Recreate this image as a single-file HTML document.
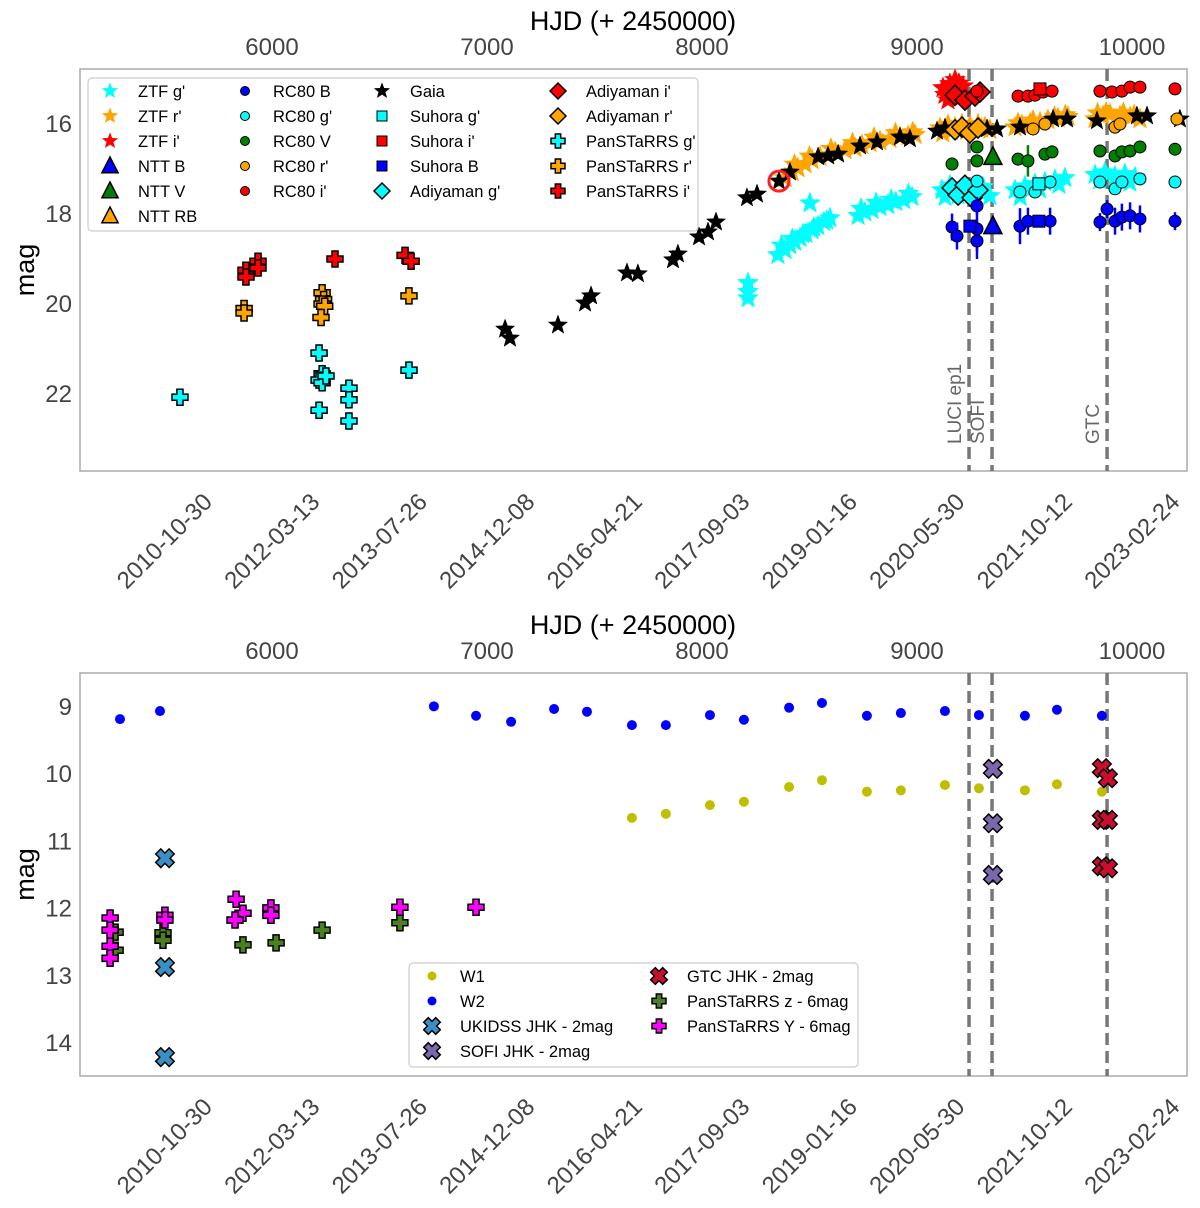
<!DOCTYPE html>
<html><head><meta charset="utf-8"><style>
html,body{margin:0;padding:0;background:#fff}
svg{display:block;font-family:"Liberation Sans","DejaVu Sans",sans-serif}
</style></head><body>
<svg id="c" width="1200" height="1208" viewBox="0 0 1200 1208" xmlns="http://www.w3.org/2000/svg"></svg>
<script>
// ---------- data (HJD-2450000, mag) ----------
const hjdTicks=[6000,7000,8000,9000,10000];
const dateTickHjd=[5500,6000,6500,7000,7500,8000,8500,9000,9500,10000];
const dateTickLabels=["2010-10-30","2012-03-13","2013-07-26","2014-12-08","2016-04-21","2017-09-03","2019-01-16","2020-05-30","2021-10-12","2023-02-24"];
const topMagTicks=[16,18,20,22];
const botMagTicks=[9,10,11,12,13,14];
const epochHjd=[9242,9349,9884];
const epochLabels=["LUCI ep1","SOFI","GTC"];

const psG_t=[5572,6219,6233,6219,6233,6251,6219,6358,6358,6358,6637];
const psG_m=[22.07,21.09,21.55,21.69,21.75,21.6,22.36,21.87,22.13,22.6,21.47];
const psR_t=[5870,5870,6233,6240,6233,6245,6228,6637];
const psR_m=[20.1,20.2,19.75,19.9,20.0,20.05,20.3,19.82];
const psI_t=[5879,5879,5935,5935,6293,6619,6647];
const psI_m=[19.25,19.4,19.05,19.2,19.0,18.92,19.05];

const gaia_t=[7084,7107,7330,7456,7484,7651,7702,7865,7888,7986,8028,8065,8209,8256,8358,8409,8540,8586,8633,8735,8814,8921,8967,9093,9130,9200,9326,9372,9479,9633,9698,9837,10023,10070,10223];
const gaia_m=[20.56,20.76,20.47,19.98,19.82,19.31,19.33,19.02,18.89,18.51,18.4,18.18,17.64,17.56,17.27,17.07,16.73,16.71,16.67,16.49,16.4,16.29,16.33,16.16,16.09,16.13,16.11,16.11,16.07,15.89,15.89,15.93,15.82,15.82,15.89];

const ztfR_t=[8386,8419,8446,8479,8512,8549,8586,8619,8665,8712,8744,8781,8828,8874,8921,8958,8991,9107,9144,9177,9209,9246,9284,9316,9339,9456,9488,9526,9572,9609,9656,9702,9828,9865,9898,9944,9991,10037,8430,8500,8600,8700,8800,8900,8980,9120,9160,9230,9300,9470,9540,9640,9690,9840,9880,9960,10010];
const ztfR_m=[17.2,17.07,16.98,16.89,16.8,16.73,16.69,16.62,16.58,16.53,16.47,16.42,16.38,16.33,16.29,16.27,16.24,16.09,16.02,16.07,16.0,16.04,16.0,16.07,16.13,16.07,16.02,15.98,15.96,15.91,15.87,15.84,15.89,15.82,15.78,15.82,15.84,15.89,16.9,16.72,16.55,16.42,16.3,16.2,16.18,16.2,16.15,16.15,16.1,15.98,15.92,15.84,15.8,15.76,15.74,15.75,15.8];
const ztfG_t=[8214,8214,8214,8502,8353,8386,8409,8432,8456,8484,8512,8539,8567,8595,8726,8758,8791,8828,8865,8902,8939,8977,9116,9153,9191,9228,9270,9307,9339,9456,9502,9549,9595,9642,9688,9828,9874,9921,9967,10014,8370,8420,8470,8520,8580,8740,8810,8880,8960,9130,9210,9290,9480,9570,9660,9850,9940,9990];
const ztfG_m=[19.53,19.73,19.87,17.76,18.91,18.8,18.69,18.62,18.53,18.44,18.36,18.27,18.18,18.09,18.04,17.96,17.91,17.84,17.8,17.73,17.69,17.62,17.47,17.36,17.58,17.42,17.53,17.4,17.6,17.47,17.38,17.33,17.29,17.24,17.2,17.13,17.07,17.16,17.11,17.18,18.7,18.55,18.45,18.3,18.15,17.88,17.75,17.68,17.55,17.62,17.55,17.5,17.62,17.45,17.35,17.25,17.25,17.3];
const ztfI_t=[9121,9153,9186,9214,9144,9200,9177,9130,9165,9195];
const ztfI_m=[15.2,15.11,15.29,15.16,15.47,15.42,15.02,15.35,15.3,15.1];

const adiI_t=[9177,9223,9270,9293]; const adiI_m=[15.36,15.47,15.38,15.29];
const adiR_t=[9177,9209,9246,9284]; const adiR_m=[16.13,16.07,16.2,16.09];
const adiG_t=[9163,9191,9223,9256,9284]; const adiG_m=[17.42,17.58,17.36,17.64,17.47];

const rcI_t=[9279,9470,9516,9549,9586,9628,9851,9907,9953,9991,10037,10200];
const rcI_m=[15.27,15.38,15.38,15.36,15.29,15.27,15.27,15.29,15.27,15.18,15.18,15.22];
const rcR_t=[9540,9595,9921,9944,10209]; const rcR_m=[16.11,16.0,16.07,16.0,15.89];
const rcV_t=[9163,9279,9279,9470,9516,9595,9628,9851,9921,9953,9991,10037,10200];
const rcV_m=[16.89,16.51,16.82,16.78,16.82,16.67,16.62,16.6,16.71,16.62,16.6,16.51,16.56];
const rcV_e=[0.05,0.1,0.1,0.05,0.35,0.05,0.05,0.05,0.08,0.05,0.05,0.05,0.05];
const rcG_t=[9279,9479,9549,9619,9851,9921,9953,10037,10200];
const rcG_m=[17.27,17.51,17.51,17.29,17.29,17.44,17.29,17.22,17.29];
const rcB_t=[9163,9186,9279,9279,9279,9479,9516,9619,9851,9884,9921,9953,9991,10037,10200];
const rcB_m=[18.29,18.49,17.82,18.33,18.6,18.27,18.16,18.16,18.18,17.89,18.16,18.07,18.04,18.11,18.16];
const rcB_e=[0.3,0.3,0.2,0.5,0.4,0.4,0.3,0.3,0.2,0.2,0.3,0.3,0.3,0.3,0.2];
const suI_t=[9572]; const suI_m=[15.22];
const suG_t=[9567]; const suG_m=[17.33];
const suB_t=[9567,9246]; const suB_m=[18.16,18.27];
const nttB_t=[9353]; const nttB_m=[18.27];
const nttV_t=[9353]; const nttV_m=[16.73];
const circled_t=[8358]; const circled_m=[17.27];

const w2_t=[5293,5479,6753,6949,7112,7312,7465,7674,7832,8037,8195,8405,8558,8767,8925,9130,9288,9502,9651,9860];
const w2_m=[9.18,9.06,8.99,9.13,9.22,9.03,9.07,9.27,9.27,9.12,9.19,9.01,8.94,9.13,9.09,9.06,9.12,9.13,9.04,9.13];
const w1_t=[7674,7832,8037,8195,8405,8558,8767,8925,9130,9288,9502,9651,9860];
const w1_m=[10.65,10.59,10.46,10.41,10.19,10.09,10.26,10.24,10.16,10.21,10.24,10.15,10.26];
const sofi_t=[9353,9353,9353]; const sofi_m=[9.92,10.73,11.5];
const gtc_t=[9860,9888,9860,9888,9860,9888]; const gtc_m=[9.91,10.06,10.68,10.68,11.37,11.4];
const psY_t=[5247,5247,5247,5247,5502,5502,5833,5865,5828,5995,5995,6595,6949];
const psY_m=[12.14,12.32,12.56,12.74,12.1,12.17,11.86,12.07,12.17,11.99,12.1,11.98,11.98];
const psZ_t=[5270,5270,5493,5493,5865,6019,6233,6595];
const psZ_m=[12.35,12.62,12.36,12.47,12.54,12.51,12.32,12.21];
const uk_t=[5502,5502,5502]; const uk_m=[11.25,12.87,14.21];

// ---------- scales ----------
const X=t=>272+(t-6000)*0.215;
const YT=m=>124+(m-16)*45;
const YB=m=>707+(m-9)*67.2;
const svg=document.getElementById('c');
const NS='http://www.w3.org/2000/svg';
function el(tag,attrs,parent){const e=document.createElementNS(NS,tag);for(const k in attrs)e.setAttribute(k,attrs[k]);(parent||svg).appendChild(e);return e;}
function starPath(cx,cy,r){let d='';for(let i=0;i<10;i++){const a=-Math.PI/2+i*Math.PI/5;const rr=i%2?r*0.42:r;d+=(i?'L':'M')+(cx+rr*Math.cos(a)).toFixed(1)+' '+(cy+rr*Math.sin(a)).toFixed(1);}return d+'Z';}
function plusPts(cx,cy,s,rot){const a=s/2,b=s*0.19;const p=[[-b,-a],[b,-a],[b,-b],[a,-b],[a,b],[b,b],[b,a],[-b,a],[-b,b],[-a,b],[-a,-b],[-b,-b]];const c=Math.cos(rot),sn=Math.sin(rot);return p.map(q=>(cx+q[0]*c-q[1]*sn).toFixed(1)+','+(cy+q[0]*sn+q[1]*c).toFixed(1)).join(' ');}
function marker(g,type,cx,cy,fill,sz){
  let e;
  if(type==='star'){e=el('path',{d:starPath(cx,cy,sz),fill:fill,stroke:fill,'stroke-width':0.5},g);}
  else if(type==='circle'){e=el('circle',{cx:cx,cy:cy,r:sz,fill:fill,stroke:'#000','stroke-width':1},g);}
  else if(type==='dot'){e=el('circle',{cx:cx,cy:cy,r:sz,fill:fill},g);}
  else if(type==='square'){e=el('rect',{x:cx-sz,y:cy-sz,width:2*sz,height:2*sz,fill:fill,stroke:'#000','stroke-width':1},g);}
  else if(type==='diamond'){e=el('polygon',{points:`${cx},${cy-sz} ${cx+sz},${cy} ${cx},${cy+sz} ${cx-sz},${cy}`,fill:fill,stroke:'#000','stroke-width':1.5},g);}
  else if(type==='tri'){e=el('polygon',{points:`${cx},${cy-sz} ${cx+sz*0.9},${cy+sz*0.75} ${cx-sz*0.9},${cy+sz*0.75}`,fill:fill,stroke:'#000','stroke-width':1.5},g);}
  else if(type==='plus'){e=el('polygon',{points:plusPts(cx,cy,sz,0),fill:fill,stroke:'#000','stroke-width':1.5},g);}
  else if(type==='x'){e=el('polygon',{points:plusPts(cx,cy,sz,Math.PI/4),fill:fill,stroke:'#000','stroke-width':1.5},g);}
  
  
  return e;
}
function series(name,ts,ms,Y,type,fill,sz,errs){
  const g=el('g',{});
  
  
  for(let i=0;i<ts.length;i++){
    const cx=X(ts[i]),cy=Y(ms[i]);
    if(errs){const l=el('line',{x1:cx,x2:cx,y1:Y(ms[i]-errs[i]),y2:Y(ms[i]+errs[i]),stroke:fill,'stroke-width':2.5},g);
      
      }
    marker(g,type,cx,cy,fill,sz);
  }
}
function text(str,x,y,attrs,name){const t=el('text',Object.assign({x:x,y:y},attrs));t.textContent=str;
  
  return t;}

// ---------- panel frames & axes ----------
const panels=[{top:69,bot:471,Y:YT,ticks:topMagTicks,pre:'top'},{top:673,bot:1076,Y:YB,ticks:botMagTicks,pre:'bottom'}];
panels.forEach(p=>{
  const r=el('rect',{x:80,y:p.top,width:1107,height:p.bot-p.top,fill:'#fff',stroke:'#aaa','stroke-width':1.5});
  
  
  text('HJD (+ 2450000)',633,p.top-39,{'font-size':27,'text-anchor':'middle',fill:'#000'},p.pre+'-x2-axis-title');
  hjdTicks.forEach(t=>text(String(t),X(t),p.top-14,{'font-size':24,'text-anchor':'middle',fill:'#444'},p.pre+'-hjd-tick'));
  p.ticks.forEach(m=>text(String(m),72,p.Y(m)+8,{'font-size':24,'text-anchor':'end',fill:'#444'},p.pre+'-y-tick'));
  dateTickHjd.forEach((t,i)=>{const cx=X(t),cy=p.bot+70;
    text(dateTickLabels[i],cx,cy+8,{'font-size':24,'text-anchor':'middle',fill:'#444',transform:`rotate(-45 ${cx} ${cy})`},p.pre+'-date-tick');});
  text('mag',34,(p.top+p.bot)/2,{'font-size':27,'text-anchor':'middle',fill:'#000',transform:`rotate(-90 34 ${(p.top+p.bot)/2})`},p.pre+'-y-axis-title');
  epochHjd.forEach(t=>{const l=el('line',{x1:X(t),x2:X(t),y1:p.top,y2:p.bot,stroke:'#777','stroke-width':3.5,'stroke-dasharray':'12,6'});
    
    });
});
epochHjd.forEach((t,i)=>{const cx=X(t)-8,cy=444;
  text(epochLabels[i],cx,cy,{'font-size':19,'text-anchor':'start',fill:'#666',transform:`rotate(-90 ${cx} ${cy})`},'epoch-label');});

// ---------- top series ----------
series('pan-starrs-g',psG_t,psG_m,YT,'plus','#00ffff',16,psG_t.map(()=>0.2));
series('pan-starrs-r',psR_t,psR_m,YT,'plus','#ffa500',16);
series('pan-starrs-i',psI_t,psI_m,YT,'plus','#ff0000',16);
series('ztf-g',ztfG_t,ztfG_m,YT,'star','#00ffff',11);
series('ztf-r',ztfR_t,ztfR_m,YT,'star','#ffa500',11);
series('ztf-i',ztfI_t,ztfI_m,YT,'star','#ff0000',11);
series('gaia',gaia_t,gaia_m,YT,'star','#000',10);
series('adiyaman-i',adiI_t,adiI_m,YT,'diamond','#ff0000',10);
series('adiyaman-r',adiR_t,adiR_m,YT,'diamond','#ffa500',10);
series('adiyaman-g',adiG_t,adiG_m,YT,'diamond','#00ffff',10);
series('rc80-i',rcI_t,rcI_m,YT,'circle','#ff0000',6);
series('rc80-r',rcR_t,rcR_m,YT,'circle','#ffa500',6);
series('rc80-v',rcV_t,rcV_m,YT,'circle','#008000',6,rcV_e);
series('rc80-g',rcG_t,rcG_m,YT,'circle','#00ffff',6);
series('rc80-b',rcB_t,rcB_m,YT,'circle','#0000ff',6,rcB_e);
series('suhora-i',suI_t,suI_m,YT,'square','#ff0000',6);
series('suhora-g',suG_t,suG_m,YT,'square','#00ffff',6);
series('suhora-b',suB_t,suB_m,YT,'square','#0000ff',6);
series('ntt-b',nttB_t,nttB_m,YT,'tri','#0000ff',10);
series('ntt-v',nttV_t,nttV_m,YT,'tri','#008000',10);
circled_t.forEach((t,i)=>{const c=el('circle',{cx:X(t),cy:YT(circled_m[i]),r:10,fill:'none',stroke:'#ff2020','stroke-width':3});
  
  });

// ---------- bottom series ----------
series('w2',w2_t,w2_m,YB,'dot','#0000ff',5);
series('w1',w1_t,w1_m,YB,'dot','#bfbf00',5);
series('pan-starrs-z',psZ_t,psZ_m,YB,'plus','#4b7f1f',16);
series('pan-starrs-y',psY_t,psY_m,YB,'plus','#ff00ff',16);
series('ukidss-jhk',uk_t,uk_m,YB,'x','#3a8fc4',19);
series('sofi-jhk',sofi_t,sofi_m,YB,'x','#7a68aa',19);
series('gtc-jhk',gtc_t,gtc_m,YB,'x','#c8102e',19);

// ---------- legends ----------
function legend(name,box,items){
  const g=el('g',{});
  
  
  el('rect',Object.assign({rx:4,fill:'#fff',stroke:'#ccc','stroke-width':1.2,'fill-opacity':0.9},box),g);
  items.forEach(it=>{marker(g,it[1],it[2],it[3],it[4],it[5]);
    const t=el('text',{x:it[2]+28,y:it[3]+6,'font-size':16.5,fill:'#000'},g);t.textContent=it[0];
    
    });
}
const c1=110,c2=245,c3=382,c4=558,r0=91,dr=25;
legend('top-legend',{x:88,y:78,width:610,height:153},[
 ["ZTF g'",'star',c1,r0,'#00ffff',8],["ZTF r'",'star',c1,r0+dr,'#ffa500',8],["ZTF i'",'star',c1,r0+2*dr,'#ff0000',8],
 ["NTT B",'tri',c1,r0+3*dr,'#0000ff',9],["NTT V",'tri',c1,r0+4*dr,'#008000',9],["NTT RB",'tri',c1,r0+5*dr,'#ffa500',9],
 ["RC80 B",'circle',c2,r0,'#0000ff',4.5],["RC80 g'",'circle',c2,r0+dr,'#00ffff',4.5],["RC80 V",'circle',c2,r0+2*dr,'#008000',4.5],["RC80 r'",'circle',c2,r0+3*dr,'#ffa500',4.5],["RC80 i'",'circle',c2,r0+4*dr,'#ff0000',4.5],
 ["Gaia",'star',c3,r0,'#000',8],["Suhora g'",'square',c3,r0+dr,'#00ffff',5],["Suhora i'",'square',c3,r0+2*dr,'#ff0000',5],["Suhora B",'square',c3,r0+3*dr,'#0000ff',5],["Adiyaman g'",'diamond',c3,r0+4*dr,'#00ffff',8],
 ["Adiyaman i'",'diamond',c4,r0,'#ff0000',8],["Adiyaman r'",'diamond',c4,r0+dr,'#ffa500',8],["PanSTaRRS g'",'plus',c4,r0+2*dr,'#00ffff',14],["PanSTaRRS r'",'plus',c4,r0+3*dr,'#ffa500',14],["PanSTaRRS i'",'plus',c4,r0+4*dr,'#ff0000',14]
]);
legend('bottom-legend',{x:409,y:963,width:449,height:104},[
 ["W1",'dot',432,976,'#bfbf00',4.5],["W2",'dot',432,1001,'#0000ff',4.5],["UKIDSS JHK - 2mag",'x',432,1026,'#3a8fc4',17],["SOFI JHK - 2mag",'x',432,1051,'#7a68aa',17],
 ["GTC JHK - 2mag",'x',659,976,'#c8102e',17],["PanSTaRRS z - 6mag",'plus',659,1001,'#4b7f1f',14],["PanSTaRRS Y - 6mag",'plus',659,1026,'#ff00ff',14]
]);
</script>
</body></html>
